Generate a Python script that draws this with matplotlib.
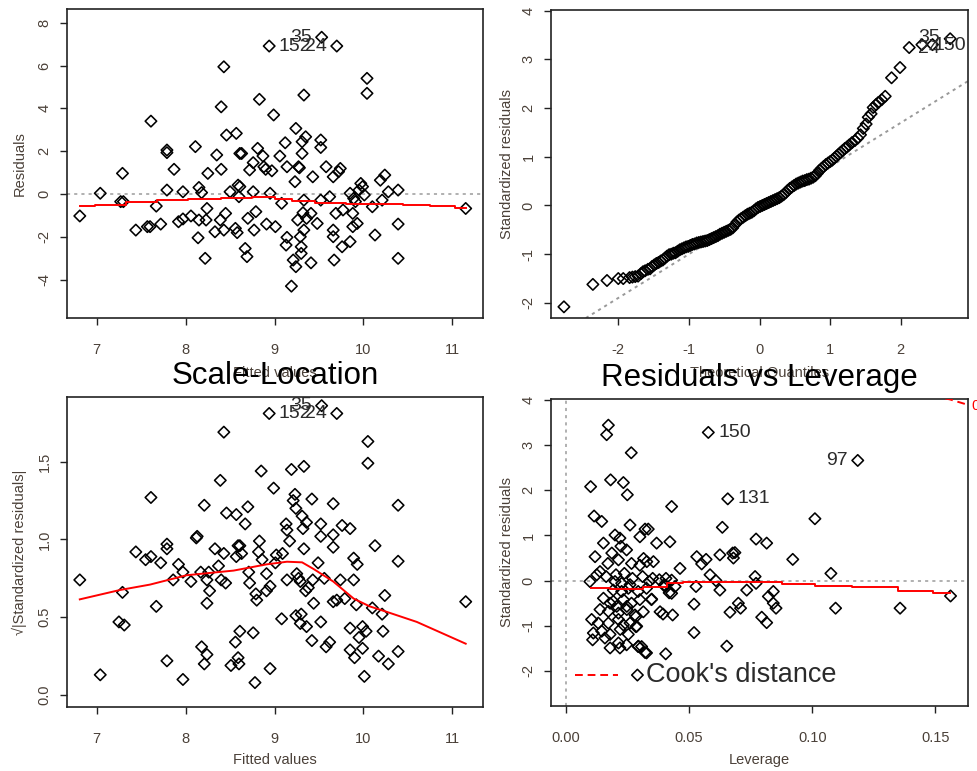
import matplotlib
matplotlib.use('Agg')
import matplotlib.pyplot as plt

plt.rcParams['font.family'] = ['Liberation Sans', 'DejaVu Sans']
plt.rcParams['axes.unicode_minus'] = False

# Residuals vs Fitted
FIT_X = [6.81, 7.04, 7.29, 7.27, 7.30, 7.44, 7.57, 7.60, 7.61, 7.67, 7.72, 7.79, 7.79, 7.79,
         7.87, 7.92, 7.97, 7.97, 8.06, 8.11, 8.14, 8.15, 8.15, 8.18, 8.22, 8.24, 8.25, 8.23,
         8.33, 8.35, 8.39, 8.40, 8.40, 8.43, 8.45, 8.43, 8.46, 8.50, 8.56, 8.57, 8.58, 8.59,
         8.61, 8.61, 8.63, 8.60, 8.67, 8.69, 8.70, 8.72, 8.76, 8.76, 8.77, 8.79, 8.81, 8.83,
         8.87, 8.88, 8.90, 8.91, 8.94, 8.95, 8.97, 8.99, 9.01, 9.06, 9.08, 9.12, 9.13, 9.14,
         9.14, 9.19, 9.21, 9.23, 9.24, 9.24, 9.26, 9.27, 9.28, 9.29, 9.30, 9.30, 9.31, 9.31,
         9.32, 9.33, 9.35, 9.33, 9.33, 9.36, 9.41, 9.41, 9.43, 9.48, 9.52, 9.52, 9.52, 9.53,
         9.58, 9.62, 9.66, 9.66, 9.66, 9.67, 9.70, 9.69, 9.72, 9.74, 9.76, 9.77, 9.85, 9.85,
         9.88, 9.88, 9.89, 9.91, 9.93, 9.95, 9.97, 9.99, 10.01, 10.04, 10.04, 10.10, 10.13,
         10.19, 10.21, 10.24, 10.28, 10.39, 10.39, 10.39, 11.15]
FIT_RES = [-1.03, 0.03, 0.96, -0.36, -0.36, -1.69, -1.53, -1.53, 3.40, -0.57, -1.41, 2.05, 1.93,
           0.18, 1.15, -1.30, 0.10, -1.17, -1.03, 2.21, -2.05, -1.22, 0.30, 0.06, -3.01, -0.68,
           0.96, -1.22, -1.77, 1.82, -1.22, 1.15, 4.07, 5.94, -0.91, -1.69, 2.75, 0.10, -1.61,
           2.83, -1.81, 0.41, 0.34, 1.89, 1.89, -0.13, -2.55, -2.93, -1.14, 1.12, 1.46, 0.10,
           -1.69, -0.83, 2.13, 4.42, 1.77, 1.27, 1.15, -1.41, 6.91, 0.03, 1.08, 3.69, -1.53,
           1.77, -0.44, 2.39, -2.39, -2.03, 1.27, -4.31, -3.09, 0.57, -3.40, 3.06, -1.22, 1.27,
           1.22, -2.00, -2.47, -2.78, 2.44, 1.89, -0.88, 4.62, 2.67, -0.29, -1.69, -1.14, -0.91,
           -3.22, 0.80, -1.38, -0.29, 2.52, 2.17, 7.32, 1.27, -0.13, 0.80, -1.69, -2.00, -3.09,
           6.91, -0.91, 1.04, 1.19, -2.47, -0.75, 0.03, -2.23, -0.91, -1.53, -0.21, -0.36,
           -1.38, 0.18, 0.49, 0.34, -0.05, 5.40, 4.70, -0.60, -1.92, 0.64, -0.29, 0.88, 0.10,
           0.18, -1.41, -3.01, -0.68]
FIT_SMOOTH_X = [6.81, 7.15, 7.50, 7.85, 8.20, 8.60, 8.90, 9.10, 9.30, 9.60, 10.00, 10.30, 10.60,
                10.90, 11.15]
FIT_SMOOTH_Y = [-0.55, -0.50, -0.38, -0.30, -0.25, -0.18, -0.15, -0.22, -0.32, -0.42, -0.45,
                -0.45, -0.52, -0.57, -0.68]

# Normal Q-Q
QQ_THEO = [-2.77, -2.36, -2.16, -2.00, -1.93, -1.84, -1.80, -1.76, -1.72, -1.68, -1.65, -1.62,
           -1.58, -1.55, -1.52, -1.49, -1.46, -1.43, -1.40, -1.37, -1.34, -1.31, -1.28, -1.25,
           -1.22, -1.19, -1.16, -1.13, -1.10, -1.07, -1.04, -1.01, -0.98, -0.95, -0.92, -0.89,
           -0.86, -0.83, -0.80, -0.77, -0.74, -0.71, -0.68, -0.65, -0.62, -0.59, -0.56, -0.53,
           -0.50, -0.47, -0.44, -0.41, -0.38, -0.35, -0.32, -0.29, -0.26, -0.23, -0.20, -0.17,
           -0.14, -0.11, -0.08, -0.05, -0.02, 0.01, 0.04, 0.07, 0.10, 0.13, 0.16, 0.19, 0.22,
           0.25, 0.28, 0.31, 0.34, 0.37, 0.40, 0.43, 0.46, 0.49, 0.52, 0.55, 0.58, 0.61, 0.64,
           0.67, 0.70, 0.73, 0.76, 0.79, 0.82, 0.85, 0.88, 0.91, 0.94, 0.97, 1.00, 1.03, 1.06,
           1.09, 1.12, 1.15, 1.18, 1.21, 1.24, 1.27, 1.31, 1.35, 1.39, 1.43, 1.47, 1.51, 1.54,
           1.58, 1.61, 1.65, 1.68, 1.73, 1.78, 1.87, 1.99, 2.12, 2.30, 2.45, 2.70]
QQ_STD = [-2.08, -1.62, -1.54, -1.50, -1.50, -1.48, -1.47, -1.46, -1.45, -1.40, -1.36, -1.34,
          -1.31, -1.30, -1.25, -1.22, -1.19, -1.17, -1.14, -1.12, -1.08, -1.04, -1.01, -1.00,
          -0.98, -0.97, -0.94, -0.91, -0.89, -0.87, -0.85, -0.84, -0.82, -0.80, -0.79, -0.77,
          -0.76, -0.75, -0.74, -0.73, -0.72, -0.70, -0.68, -0.66, -0.64, -0.62, -0.59, -0.57,
          -0.55, -0.53, -0.51, -0.49, -0.46, -0.40, -0.34, -0.30, -0.27, -0.24, -0.21, -0.18,
          -0.16, -0.14, -0.11, -0.07, -0.04, -0.02, 0.00, 0.02, 0.04, 0.06, 0.08, 0.10, 0.12,
          0.14, 0.16, 0.19, 0.22, 0.26, 0.31, 0.35, 0.38, 0.41, 0.44, 0.46, 0.48, 0.50, 0.51,
          0.53, 0.54, 0.56, 0.58, 0.61, 0.66, 0.72, 0.76, 0.80, 0.84, 0.87, 0.90, 0.93, 0.97,
          1.01, 1.05, 1.09, 1.13, 1.17, 1.20, 1.24, 1.29, 1.33, 1.38, 1.45, 1.58, 1.67, 1.81,
          1.88, 2.01, 2.07, 2.11, 2.17, 2.24, 2.62, 2.83, 3.24, 3.30, 3.30, 3.42]
QQ_LINE_X = [-2.47, 2.94]
QQ_LINE_Y = [-2.32, 2.54]

# Scale-Location
SL_X = [6.81, 7.04, 7.29, 7.25, 7.31, 7.44, 7.55, 7.61, 7.61, 7.67, 7.72, 7.79, 7.79, 7.79,
        7.86, 7.92, 7.97, 7.97, 8.06, 8.12, 8.13, 8.17, 8.18, 8.21, 8.21, 8.24, 8.24, 8.24,
        8.27, 8.26, 8.33, 8.37, 8.39, 8.40, 8.43, 8.43, 8.45, 8.46, 8.51, 8.56, 8.57, 8.57,
        8.59, 8.61, 8.59, 8.60, 8.61, 8.63, 8.67, 8.70, 8.71, 8.72, 8.76, 8.78, 8.79, 8.80,
        8.82, 8.83, 8.85, 8.86, 8.91, 8.91, 8.94, 8.95, 8.95, 8.99, 9.01, 9.02, 9.08, 9.09,
        9.13, 9.14, 9.14, 9.17, 9.19, 9.21, 9.23, 9.24, 9.24, 9.25, 9.27, 9.29, 9.29, 9.30,
        9.31, 9.32, 9.33, 9.33, 9.35, 9.36, 9.36, 9.38, 9.42, 9.42, 9.43, 9.44, 9.49, 9.53,
        9.52, 9.52, 9.52, 9.56, 9.58, 9.62, 9.66, 9.66, 9.66, 9.66, 9.70, 9.70, 9.74, 9.76,
        9.79, 9.85, 9.85, 9.85, 9.89, 9.89, 9.90, 9.92, 9.93, 9.95, 9.99, 9.99, 10.01, 10.03,
        10.05, 10.05, 10.10, 10.13, 10.17, 10.21, 10.22, 10.24, 10.28, 10.39, 10.39, 10.39,
        11.15]
SL_Y = [0.74, 0.13, 0.66, 0.47, 0.45, 0.92, 0.87, 0.89, 1.27, 0.57, 0.85, 0.97, 0.94, 0.22,
        0.74, 0.84, 0.79, 0.10, 0.73, 1.01, 1.02, 0.79, 0.31, 1.22, 0.20, 0.74, 0.59, 0.26,
        0.67, 0.79, 0.94, 0.83, 1.38, 0.74, 1.69, 0.91, 0.72, 1.17, 0.19, 0.34, 1.16, 0.89,
        0.96, 0.96, 0.24, 0.20, 0.41, 0.91, 1.10, 1.21, 0.79, 0.72, 0.40, 0.08, 0.65, 0.61,
        0.92, 0.99, 1.44, 0.87, 0.67, 0.78, 1.81, 0.17, 0.70, 1.33, 0.85, 0.90, 0.49, 0.91,
        1.10, 1.06, 0.74, 0.99, 1.45, 1.25, 1.29, 0.51, 1.20, 0.78, 0.75, 0.73, 0.46, 0.52,
        1.15, 1.07, 1.47, 0.94, 0.67, 0.44, 1.11, 0.69, 1.26, 0.35, 0.74, 0.59, 0.85, 1.86,
        1.10, 1.02, 0.47, 0.75, 0.31, 0.34, 1.23, 1.03, 0.95, 0.60, 1.81, 0.61, 0.74, 1.09,
        0.62, 1.07, 0.43, 0.29, 0.88, 0.74, 0.24, 0.58, 0.84, 0.37, 0.44, 0.30, 0.12, 0.41,
        1.63, 1.49, 0.56, 0.96, 0.25, 0.52, 0.41, 0.64, 0.20, 1.22, 0.86, 0.28, 0.60]
SL_SMOOTH_X = [6.81, 7.26, 7.60, 8.01, 8.54, 8.91, 9.14, 9.31, 9.44, 9.66, 9.89, 10.07, 10.26,
               10.60, 11.15]
SL_SMOOTH_Y = [0.615, 0.675, 0.71, 0.77, 0.80, 0.84, 0.857, 0.853, 0.81, 0.73, 0.62, 0.57,
               0.535, 0.47, 0.33]

# Residuals vs Leverage
LEV_X = [0.0578, 0.1185, 0.0657, 0.0172, 0.0165, 0.0265, 0.0181, 0.0233, 0.0249, 0.0100,
         0.0114, 0.0145, 0.0260, 0.0321, 0.0334, 0.0429, 0.0368, 0.0422, 0.0635, 0.1011,
         0.0772, 0.0815, 0.0625, 0.0677, 0.0686, 0.0680, 0.0531, 0.0569, 0.0551, 0.0463,
         0.0585, 0.0609, 0.0625, 0.0528, 0.0520, 0.0520, 0.0653, 0.0666, 0.0700, 0.0709,
         0.0734, 0.0768, 0.0772, 0.0795, 0.0815, 0.0822, 0.0842, 0.0842, 0.0853, 0.0921,
         0.1076, 0.1095, 0.1357, 0.1562, 0.0290, 0.0405, 0.0321, 0.0307, 0.0294, 0.0394,
         0.0382, 0.0433, 0.0402, 0.0429, 0.0429, 0.0443, 0.0348, 0.0352, 0.0355, 0.0314,
         0.0284, 0.0284,
         0.0152, 0.0118, 0.0097, 0.0138, 0.0125, 0.0186, 0.0199, 0.0219, 0.0223, 0.0246,
         0.0300, 0.0328, 0.0315, 0.0300, 0.0266, 0.0213, 0.0170, 0.0163, 0.0203, 0.0237,
         0.0270, 0.0311, 0.0338, 0.0379, 0.0406, 0.0419, 0.0399, 0.0192, 0.0226, 0.0253,
         0.0293, 0.0327, 0.0152, 0.0192, 0.0233, 0.0266, 0.0300, 0.0347, 0.0138, 0.0172,
         0.0213, 0.0247, 0.0280, 0.0104, 0.0131, 0.0172, 0.0213, 0.0233, 0.0260, 0.0287,
         0.0111, 0.0145, 0.0179, 0.0220, 0.0253, 0.0108, 0.0158, 0.0213, 0.0179, 0.0219,
         0.0246, 0.0293, 0.0327, 0.0226, 0.0199, 0.0260, 0.0179, 0.0206, 0.0247]
LEV_STD = [3.28, 2.66, 1.81, 3.44, 3.23, 2.83, 2.23, 2.17, 1.90, 2.08,
           1.43, 1.31, 1.23, 1.14, 1.14, 1.64, 0.83, 0.86, 1.18, 1.37,
           0.92, 0.83, 0.57, 0.61, 0.62, 0.50, 0.53, 0.47, 0.37, 0.27,
           0.13, 0.00, -0.21, -0.13, -0.52, -1.15, -1.45, -0.70, -0.50, -0.61,
           -0.21, 0.09, -0.06, -0.81, -0.93, -0.35, -0.24, -0.50, -0.61, 0.47,
           0.16, -0.61, -0.61, -0.34, -2.09, -1.62, -1.59, -1.46, -1.45, -0.74,
           -0.69, -0.76, -0.13, 0.01, -0.28, -0.13, -0.41, 0.05, 0.42, -0.69,
           -0.80, -1.02,
           0.83, 0.53, -0.02, 0.20, 0.13, 0.61, 1.01, 0.94, 0.76, 0.68,
           0.97, 0.42, 0.49, 0.34, 0.38, 0.46, 0.38, 0.09, 0.13, 0.16,
           0.05, 0.09, -0.02, 0.02, 0.05, -0.27, -0.09, -0.21, -0.24, -0.17,
           -0.24, -0.17, -0.39, -0.46, -0.42, -0.50, -0.42, -0.42, -0.64, -0.68,
           -0.72, -0.64, -0.76, -0.86, -0.94, -0.94, -0.86, -0.98, -0.94, -1.01,
           -1.16, -1.12, -1.19, -1.08, -1.19, -1.31, -1.27, -1.38, -1.49, -1.49,
           -1.42, -1.46, -1.60, -0.06, -0.02, -0.09, -0.50, -0.57, -0.57]
LEV_SMOOTH_X = [0.0100, 0.0260, 0.0368, 0.0450, 0.0504, 0.0640, 0.0775, 0.0980, 0.1045,
                0.1275, 0.1420, 0.1560]
LEV_SMOOTH_Y = [-0.17, -0.19, -0.15, -0.06, -0.04, -0.04, -0.04, -0.07, -0.13, -0.15,
                -0.22, -0.28]
COOK_X = [0.149, 0.156, 0.1633]
COOK_Y = [4.09, 4.01, 3.89]

TEXT_GREY = '#4a4038'
LABEL_DARK = '#2b2b2b'
DASH_SHORT = (0, (1.6, 2.1))


def __setup_axes(ax, xlim, ylim, xticks, yticks, xlabels, ylabels):
    ax.set_xlim(xlim)
    ax.set_ylim(ylim)
    ax.set_xticks(xticks)
    ax.set_xticklabels(xlabels)
    ax.set_yticks(yticks)
    ax.set_yticklabels(ylabels, rotation=90, va='center')
    ax.tick_params(direction='out', length=5, width=1.0, labelsize=10.5,
                   labelcolor=TEXT_GREY, color='#222222')
    ax.tick_params(axis='x', pad=13)
    ax.tick_params(axis='y', pad=6)
    for sp in ax.spines.values():
        sp.set_linewidth(1.2)
        sp.set_color('#222222')


def __points(ax, x, y):
    ax.scatter(x, y, marker='D', s=34, facecolors='none', edgecolors='black',
               linewidths=1.15, zorder=3)


def __label(ax, x, y, text, side):
    off = -7 if side == 'left' else 7
    ax.annotate(text, (x, y), xytext=(off, 0), textcoords='offset points',
                ha='right' if side == 'left' else 'left', va='center',
                fontsize=14, color=LABEL_DARK, zorder=4)


fig = plt.figure(figsize=(9.78, 7.71), dpi=100)

ax1 = fig.add_axes([0.0685, 0.5875, 0.4254, 0.4008])
ax2 = fig.add_axes([0.5634, 0.5875, 0.4264, 0.3995])
ax3 = fig.add_axes([0.0685, 0.0830, 0.4254, 0.4021])
ax4 = fig.add_axes([0.5634, 0.0843, 0.4264, 0.3982])

# top left: residuals vs fitted
__setup_axes(ax1, (6.666, 11.345), (-5.80, 8.64), [7, 8, 9, 10, 11], [-4, -2, 0, 2, 4, 6, 8],
             ['7', '8', '9', '10', '11'], ['-4', '-2', '0', '2', '4', '6', '8'])
ax1.axhline(0, color='#b0b0b0', lw=1.4, linestyle=DASH_SHORT, zorder=1)
__points(ax1, FIT_X, FIT_RES)
ax1.plot(FIT_SMOOTH_X, FIT_SMOOTH_Y, color='red', lw=1.4, drawstyle='steps-mid', zorder=4)
__label(ax1, 9.53, 7.32, '35', 'left')
__label(ax1, 9.70, 6.91, '24', 'left')
__label(ax1, 8.94, 6.91, '152', 'right')
ax1.set_xlabel('Fitted values', fontsize=10.5, color=TEXT_GREY)
ax1.set_ylabel('Residuals', fontsize=10.5, color=TEXT_GREY)
ax1.xaxis.set_label_coords(0.5, -0.155)
ax1.yaxis.set_label_coords(-0.096, 0.5)

# top right: normal Q-Q
__setup_axes(ax2, (-2.953, 2.953), (-2.31, 4.01), [-2, -1, 0, 1, 2], [-2, -1, 0, 1, 2, 3, 4],
             ['-2', '-1', '0', '1', '2'], ['-2', '-1', '0', '1', '2', '3', '4'])
ax2.axline((QQ_LINE_X[0], QQ_LINE_Y[0]), (QQ_LINE_X[1], QQ_LINE_Y[1]), color='#999999',
           lw=1.4, linestyle=DASH_SHORT, zorder=1)
__points(ax2, QQ_THEO, QQ_STD)
ax2.text(2.56, 3.45, '35', ha='right', va='center', fontsize=14, color=LABEL_DARK, zorder=4)
ax2.text(2.56, 3.22, '24', ha='right', va='center', fontsize=14, color=LABEL_DARK, zorder=4)
ax2.text(2.46, 3.28, '150', ha='left', va='center', fontsize=14, color=LABEL_DARK, zorder=4)
ax2.set_xlabel('Theoretical Quantiles', fontsize=10.5, color=TEXT_GREY)
ax2.set_ylabel('Standardized residuals', fontsize=10.5, color=TEXT_GREY)
ax2.xaxis.set_label_coords(0.5, -0.155)
ax2.yaxis.set_label_coords(-0.089, 0.5)

# bottom left: scale-location
__setup_axes(ax3, (6.666, 11.345), (-0.077, 1.916), [7, 8, 9, 10, 11], [0.0, 0.5, 1.0, 1.5],
             ['7', '8', '9', '10', '11'], ['0.0', '0.5', '1.0', '1.5'])
__points(ax3, SL_X, SL_Y)
ax3.plot(SL_SMOOTH_X, SL_SMOOTH_Y, color='red', lw=1.4, zorder=4)
__label(ax3, 9.53, 1.86, '35', 'left')
__label(ax3, 9.70, 1.81, '24', 'left')
__label(ax3, 8.94, 1.81, '152', 'right')
ax3.set_xlabel('Fitted values', fontsize=10.5, color=TEXT_GREY)
ax3.set_ylabel('√|Standardized residuals|', fontsize=10.5, color=TEXT_GREY)
ax3.xaxis.set_label_coords(0.5, -0.148)
ax3.yaxis.set_label_coords(-0.096, 0.5)
ax3.set_title('Scale-Location', fontsize=22.5, pad=9)

# bottom right: residuals vs leverage
__setup_axes(ax4, (-0.0061, 0.1633), (-2.775, 4.02), [0.0, 0.05, 0.10, 0.15],
             [-2, -1, 0, 1, 2, 3, 4], ['0.00', '0.05', '0.10', '0.15'],
             ['-2', '-1', '0', '1', '2', '3', '4'])
ax4.axhline(0, color='#b0b0b0', lw=1.4, linestyle=DASH_SHORT, zorder=1)
ax4.axvline(0, color='#b0b0b0', lw=1.4, linestyle=DASH_SHORT, zorder=1)
__points(ax4, LEV_X, LEV_STD)
ax4.plot(LEV_SMOOTH_X, LEV_SMOOTH_Y, color='red', lw=1.4, drawstyle='steps-mid', zorder=4)
ax4.plot(COOK_X, COOK_Y, color='red', lw=1.4, linestyle=(0, (4, 2.5)), zorder=4)
ax4.text(0.1646, 3.87, '0.5', color='red', fontsize=10.5, va='center', ha='left', clip_on=False)
__label(ax4, 0.0578, 3.28, '150', 'right')
__label(ax4, 0.1185, 2.66, '97', 'left')
__label(ax4, 0.0657, 1.81, '131', 'right')
ax4.plot([0.058, 0.161], [0.10, 0.10], transform=ax4.transAxes, color='red', lw=1.4,
         linestyle=(0, (4, 2.5)))
ax4.text(0.228, 0.10, "Cook's distance", transform=ax4.transAxes, fontsize=19.5,
         va='center', ha='left', color=LABEL_DARK)
ax4.set_xlabel('Leverage', fontsize=10.5, color=TEXT_GREY)
ax4.set_ylabel('Standardized residuals', fontsize=10.5, color=TEXT_GREY)
ax4.xaxis.set_label_coords(0.5, -0.153)
ax4.yaxis.set_label_coords(-0.089, 0.5)
ax4.set_title('Residuals vs Leverage', fontsize=22.5, pad=9)

fig.savefig('out.png', dpi=100)
